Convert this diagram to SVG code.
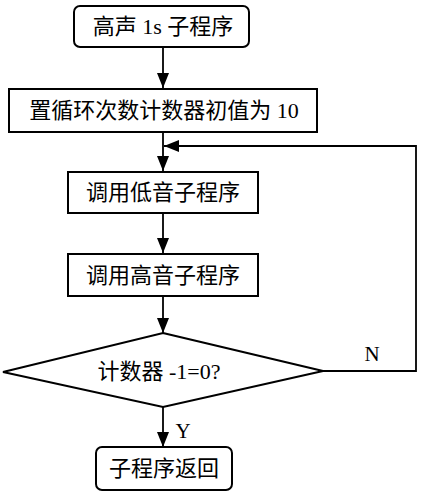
<svg xmlns="http://www.w3.org/2000/svg" width="424" height="500" viewBox="0 0 424 500">
<style>
.box{fill:#fff;stroke:#000;stroke-width:2}
.ln{fill:none;stroke:#000;stroke-width:1.8}
.t{font-family:"Liberation Serif","Noto Sans CJK SC",serif;font-size:22px;fill:#000;text-anchor:middle}
.l{font-family:"Liberation Serif",serif;font-size:21px;fill:#000;text-anchor:middle}
</style>
<defs>
<marker id="ahb" viewBox="0 0 15 12" refX="15" refY="6" markerWidth="15" markerHeight="12" markerUnits="userSpaceOnUse" orient="auto">
<path d="M0,0 L15,6 L0,12 Z" fill="#000"/>
</marker>
</defs>
<g id="connectors">
<line class="ln" x1="163" y1="47" x2="163" y2="88" marker-end="url(#ahb)"/>
<line class="ln" x1="163" y1="132" x2="163" y2="171" marker-end="url(#ahb)"/>
<line class="ln" x1="163" y1="213" x2="163" y2="253" marker-end="url(#ahb)"/>
<line class="ln" x1="163" y1="296" x2="163" y2="333" marker-end="url(#ahb)"/>
<line class="ln" x1="163" y1="407" x2="163" y2="447" marker-end="url(#ahb)"/>
<polyline class="ln" points="323,371 416,371 416,146 164,146" marker-end="url(#ahb)"/>
<text class="l" x="372" y="361">N</text>
<text class="l" x="183" y="438">Y</text>
</g>
<g id="start">
<rect class="box" x="74" y="6" width="175" height="41" rx="6"/>
<text class="t" x="163" y="34">高声 1s 子程序</text>
</g>
<g id="init">
<rect class="box" x="9" y="89" width="308" height="43"/>
<text class="t" x="164" y="118">置循环次数计数器初值为 10</text>
</g>
<g id="low">
<rect class="box" x="68" y="172" width="190" height="41"/>
<text class="t" x="163" y="200">调用低音子程序</text>
</g>
<g id="high">
<rect class="box" x="68" y="254" width="190" height="42"/>
<text class="t" x="163" y="283">调用高音子程序</text>
</g>
<g id="decision">
<polygon class="box" points="163,333 323,371 163,407 3,372"/>
<text class="t" x="159" y="379">计数器 -1=0?</text>
</g>
<g id="end">
<rect class="box" x="96" y="447" width="136" height="43" rx="6"/>
<text class="t" x="164" y="476">子程序返回</text>
</g>
</svg>
